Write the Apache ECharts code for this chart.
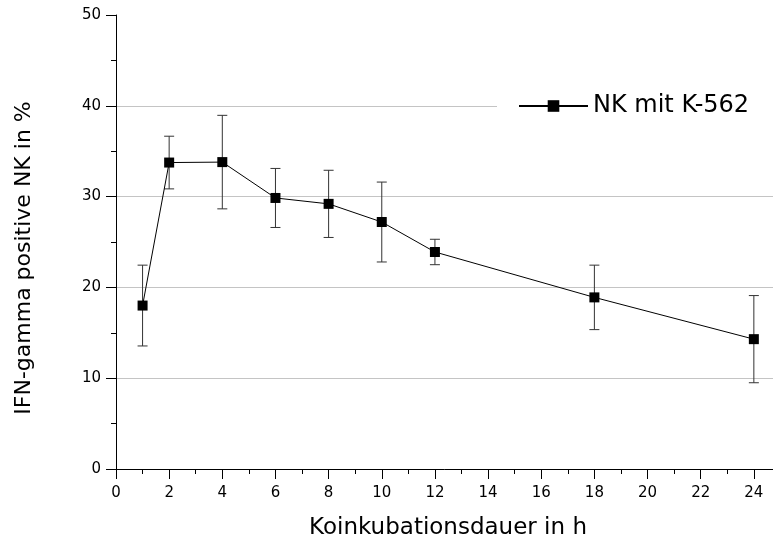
<!DOCTYPE html>
<html>
<head>
<meta charset="utf-8">
<script src="https://cdn.jsdelivr.net/npm/echarts@6/dist/echarts.min.js"></script>
<style>
  html, body { margin: 0; padding: 0; background: #fff; }
  #chart { width: 773px; height: 542px; }
</style>
</head>
<body>
<div id="chart"></div>
<script>
// Coincubation time (h), mean share of IFN-gamma positive NK cells (%) and SD
const hours = [1, 2, 4, 6, 8, 10, 12, 18, 24];
const ifnPositive = [18.0, 33.75, 33.8, 29.85, 29.2, 27.2, 23.9, 18.9, 14.3];
const ifnSd = [4.45, 2.9, 5.15, 3.25, 3.7, 4.4, 1.4, 3.55, 4.8];

const seriesName = 'NK mit K-562';
const xTitle = 'Koinkubationsdauer in h';
const yTitle = 'IFN-gamma positive NK in %';

const FONT = 'DejaVu Sans';

const linePoints = hours.map((h, i) => [h, ifnPositive[i]]);
const errorRanges = hours.map((h, i) => [h, ifnPositive[i] - ifnSd[i], ifnPositive[i] + ifnSd[i]]);

const axisColor = '#000';

const chart = echarts.init(document.getElementById('chart'), null, { renderer: 'canvas' });

chart.setOption({
  animation: false,
  backgroundColor: '#fff',
  grid: { left: 116, right: -34, top: 15, bottom: 73, containLabel: false, outerBoundsMode: 'none' },
  legend: {
    data: [seriesName],
    left: 497,
    top: 89,
    padding: [5, 60, 5, 21],
    backgroundColor: '#fff',
    itemWidth: 69,
    itemHeight: 14.5,
    textStyle: { fontFamily: FONT, fontSize: 24, color: '#000' },
    selectedMode: false
  },
  xAxis: {
    type: 'value',
    min: 0,
    max: 26,
    interval: 2,
    name: xTitle,
    nameLocation: 'middle',
    nameGap: 48,
    nameTextStyle: { fontFamily: FONT, fontSize: 23, color: '#000', padding: [0, 27, 0, 0] },
    axisLine: { show: true, lineStyle: { color: axisColor, width: 1 } },
    axisTick: { show: true, inside: false, length: 10, lineStyle: { color: axisColor, width: 1 } },
    minorTick: { show: true, splitNumber: 2, length: 5, lineStyle: { color: axisColor, width: 1 } },
    axisLabel: { fontFamily: FONT, fontSize: 15, color: '#000', margin: 17, showMaxLabel: false },
    splitLine: { show: false }
  },
  yAxis: {
    type: 'value',
    min: 0,
    max: 50,
    interval: 10,
    name: yTitle,
    nameLocation: 'middle',
    nameGap: 81,
    nameTextStyle: { fontFamily: FONT, fontSize: 22, color: '#000', padding: [0, 32, 0, 0] },
    axisLine: { show: true, lineStyle: { color: axisColor, width: 1 } },
    axisTick: { show: true, inside: false, length: 10, lineStyle: { color: axisColor, width: 1 } },
    minorTick: { show: true, splitNumber: 2, length: 5, lineStyle: { color: axisColor, width: 1 } },
    axisLabel: { fontFamily: FONT, fontSize: 15, color: '#000', margin: 15 },
    splitLine: { show: true, showMinLine: false, showMaxLine: false, lineStyle: { color: '#c4c4c4', width: 1 } }
  },
  series: [
    {
      // SD whiskers with caps
      type: 'custom',
      name: 'SD',
      z: 2,
      silent: true,
      data: errorRanges,
      encode: { x: 0, y: [1, 2] },
      renderItem: function (params, api) {
        const x = api.value(0);
        const lo = api.coord([x, api.value(1)]);
        const hi = api.coord([x, api.value(2)]);
        const half = 5;
        const style = { stroke: '#333', lineWidth: 1 };
        return {
          type: 'group',
          children: [
            { type: 'line', shape: { x1: lo[0], y1: lo[1], x2: hi[0], y2: hi[1] }, style: style },
            { type: 'line', shape: { x1: lo[0] - half, y1: lo[1], x2: lo[0] + half, y2: lo[1] }, style: style },
            { type: 'line', shape: { x1: hi[0] - half, y1: hi[1], x2: hi[0] + half, y2: hi[1] }, style: style }
          ]
        };
      }
    },
    {
      type: 'line',
      name: seriesName,
      z: 3,
      data: linePoints,
      symbol: 'rect',
      symbolSize: 10,
      showAllSymbol: true,
      lineStyle: { color: '#000', width: 1 },
      itemStyle: { color: '#000', borderWidth: 0 },
      emphasis: { disabled: true }
    }
  ]
});
</script>
</body>
</html>
